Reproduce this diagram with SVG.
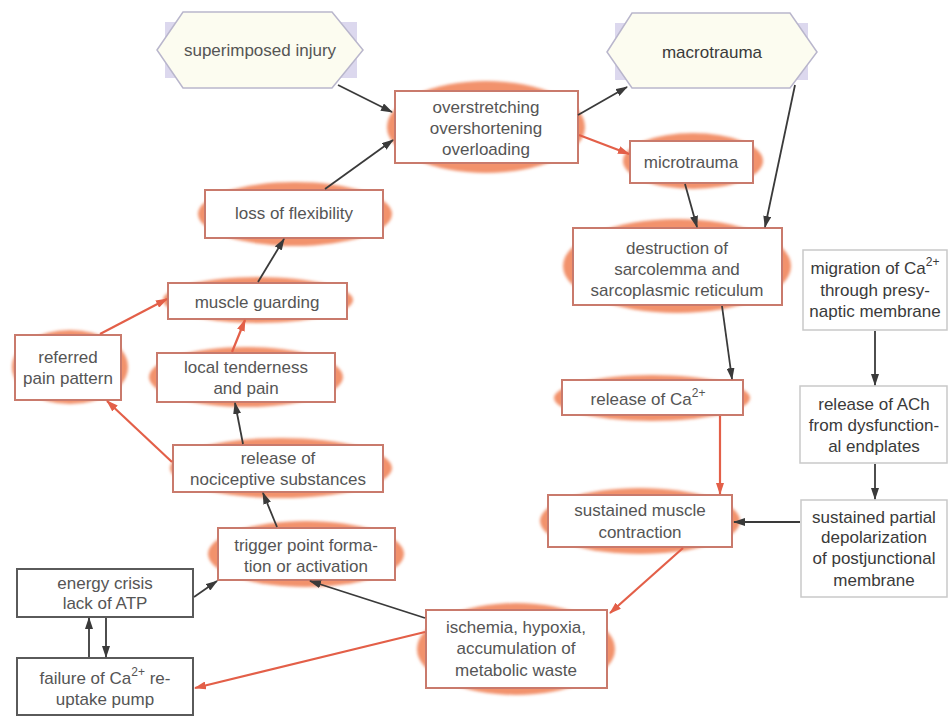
<svg xmlns="http://www.w3.org/2000/svg" width="950" height="717" viewBox="0 0 950 717">
<style>
text{font-family:"Liberation Sans",Arial,sans-serif;font-size:17px;fill:#555;text-anchor:middle;dominant-baseline:central}
.dk text, text.dk{fill:#3a3a3a}
.box{fill:#fff;stroke:#c97a6c;stroke-width:2}
.gbox{fill:#fff;stroke:#c9c9c9;stroke-width:1.5}
.kbox{fill:#fff;stroke:#5a5a5a;stroke-width:2}
.ell{fill:#f2926c;filter:url(#soft)}
.hex{fill:#fcfcf0;stroke:#b9b6cc;stroke-width:1.5}
.lav{fill:#dcd8ee}
.k{stroke:#3a3a3a;stroke-width:1.8;fill:none;marker-end:url(#ak)}
.r{stroke:#e35f48;stroke-width:2.2;fill:none;marker-end:url(#ar)}
.sup{font-size:12px}
</style>
<defs>
<filter id="soft" x="-10%" y="-20%" width="120%" height="140%"><feGaussianBlur stdDeviation="1.5"/></filter>
<marker id="ak" markerUnits="userSpaceOnUse" markerWidth="12" markerHeight="8" refX="11" refY="4" orient="auto"><path d="M0,0 L12,4 L0,8 z" fill="#3a3a3a"/></marker>
<marker id="ar" markerUnits="userSpaceOnUse" markerWidth="12" markerHeight="8" refX="11" refY="4" orient="auto"><path d="M0,0 L12,4 L0,8 z" fill="#e35f48"/></marker>
</defs>
<rect width="950" height="717" fill="#fff"/>

<g id="superimposed-injury">
<rect class="lav" x="165" y="22" width="192" height="56"/>
<polygon class="hex" points="157,50 183,12 332,12 363,50 332,88 183,88"/>
<text x="260" y="50">superimposed injury</text>
</g>

<g id="macrotrauma">
<rect class="lav" x="615" y="23" width="193" height="57"/>
<polygon class="hex" points="607,52 632,13 790,13 817,52 790,88 632,88"/>
<text x="712" y="52" class="dk">macrotrauma</text>
</g>

<g id="overstretching">
<ellipse class="ell" cx="486" cy="127" rx="99" ry="46"/>
<rect class="box" x="395" y="91" width="183" height="72"/>
<text x="486" y="107">overstretching</text>
<text x="486" y="128">overshortening</text>
<text x="486" y="149">overloading</text>
</g>

<g id="microtrauma">
<ellipse class="ell" cx="693" cy="161" rx="70" ry="28"/>
<rect class="box" x="630" y="141" width="123" height="42"/>
<text x="691" y="162">microtrauma</text>
</g>

<g id="destruction">
<ellipse class="ell" cx="677" cy="266" rx="114" ry="47"/>
<rect class="box" x="573" y="228" width="209" height="77"/>
<text x="677" y="248">destruction of</text>
<text x="677" y="269">sarcolemma and</text>
<text x="677" y="290">sarcoplasmic reticulum</text>
</g>

<g id="migration" class="dk">
<rect class="gbox" x="803" y="250" width="144" height="80"/>
<text x="875" y="268">migration of Ca<tspan class="sup" dy="-6">2+</tspan></text>
<text x="875" y="290">through presy-</text>
<text x="875" y="311">naptic membrane</text>
</g>

<g id="release-ca">
<ellipse class="ell" cx="652" cy="398" rx="98" ry="23"/>
<rect class="box" x="562" y="380" width="181" height="35"/>
<text x="648" y="399">release of Ca<tspan class="sup" dy="-6">2+</tspan></text>
</g>

<g id="release-ach" class="dk">
<rect class="gbox" x="800" y="386" width="147" height="77"/>
<text x="874" y="404">release of ACh</text>
<text x="874" y="425">from dysfunction-</text>
<text x="874" y="446">al endplates</text>
</g>

<g id="sustained-contraction">
<ellipse class="ell" cx="640" cy="521" rx="100" ry="33"/>
<rect class="box" x="548" y="495" width="184" height="52"/>
<text x="640" y="510">sustained muscle</text>
<text x="640" y="532">contraction</text>
</g>

<g id="sustained-depolarization" class="dk">
<rect class="gbox" x="801" y="500" width="146" height="97"/>
<text x="874" y="517">sustained partial</text>
<text x="874" y="537">depolarization</text>
<text x="874" y="558">of postjunctional</text>
<text x="874" y="580">membrane</text>
</g>

<g id="ischemia">
<ellipse class="ell" cx="516" cy="649" rx="99" ry="46"/>
<rect class="box" x="426" y="610" width="181" height="78"/>
<text x="516" y="627">ischemia, hypoxia,</text>
<text x="516" y="648">accumulation of</text>
<text x="516" y="670">metabolic waste</text>
</g>

<g id="loss-flexibility">
<ellipse class="ell" cx="295" cy="214" rx="97" ry="32"/>
<rect class="box" x="205" y="190" width="178" height="48"/>
<text x="294" y="213">loss of flexibility</text>
</g>

<g id="muscle-guarding">
<ellipse class="ell" cx="258" cy="300" rx="95" ry="23"/>
<rect class="box" x="168" y="283" width="179" height="36"/>
<text x="257" y="302">muscle guarding</text>
</g>

<g id="referred-pain">
<ellipse class="ell" cx="70" cy="367" rx="58" ry="37"/>
<rect class="box" x="15" y="335" width="106" height="65"/>
<text x="68" y="357">referred</text>
<text x="68" y="378">pain pattern</text>
</g>

<g id="local-tenderness">
<ellipse class="ell" cx="246" cy="377" rx="97" ry="30"/>
<rect class="box" x="157" y="353" width="178" height="49"/>
<text x="246" y="367">local tenderness</text>
<text x="246" y="388">and pain</text>
</g>

<g id="nociceptive">
<ellipse class="ell" cx="281" cy="468" rx="111" ry="30"/>
<rect class="box" x="173" y="445" width="210" height="47"/>
<text x="278" y="458">release of</text>
<text x="278" y="479">nociceptive substances</text>
</g>

<g id="trigger-point">
<ellipse class="ell" cx="306" cy="554" rx="98" ry="33"/>
<rect class="box" x="218" y="528" width="177" height="52"/>
<text x="306" y="545">trigger point forma-</text>
<text x="306" y="566">tion or activation</text>
</g>

<g id="energy-crisis">
<rect class="kbox" x="17" y="569" width="176" height="48"/>
<text x="105" y="583">energy crisis</text>
<text x="105" y="603">lack of ATP</text>
</g>

<g id="failure-pump">
<rect class="kbox" x="17" y="658" width="176" height="57"/>
<text x="105" y="678">failure of Ca<tspan class="sup" dy="-6">2+</tspan><tspan dy="6"> re-</tspan></text>
<text x="105" y="699">uptake pump</text>
</g>

<g id="connectors">
<line class="k" x1="338" y1="85" x2="392" y2="112"/>
<line class="k" x1="325" y1="189" x2="393" y2="140"/>
<line class="k" x1="578" y1="115" x2="627" y2="87"/>
<line class="k" x1="795" y1="85" x2="765" y2="227"/>
<line class="k" x1="685" y1="184" x2="697" y2="227"/>
<line class="k" x1="722" y1="306" x2="732" y2="379"/>
<line class="k" x1="875" y1="331" x2="875" y2="385"/>
<line class="k" x1="875" y1="464" x2="875" y2="499"/>
<line class="k" x1="800" y1="522" x2="734" y2="522"/>
<line class="k" x1="425" y1="618" x2="310" y2="581"/>
<line class="k" x1="194" y1="597" x2="217" y2="581"/>
<line class="k" x1="89" y1="657" x2="89" y2="618"/>
<line class="k" x1="106" y1="618" x2="106" y2="657"/>
<line class="k" x1="277" y1="527" x2="263" y2="493"/>
<line class="k" x1="243" y1="444" x2="235" y2="403"/>
<line class="k" x1="258" y1="282" x2="284" y2="239"/>
<line class="r" x1="579" y1="135" x2="629" y2="154"/>
<line class="r" x1="720" y1="416" x2="720" y2="494"/>
<line class="r" x1="683" y1="548" x2="610" y2="613"/>
<line class="r" x1="425" y1="632" x2="195" y2="688"/>
<line class="r" x1="172" y1="462" x2="107" y2="401"/>
<line class="r" x1="232" y1="352" x2="245" y2="320"/>
<line class="r" x1="100" y1="334" x2="167" y2="299"/>
</g>
</svg>
